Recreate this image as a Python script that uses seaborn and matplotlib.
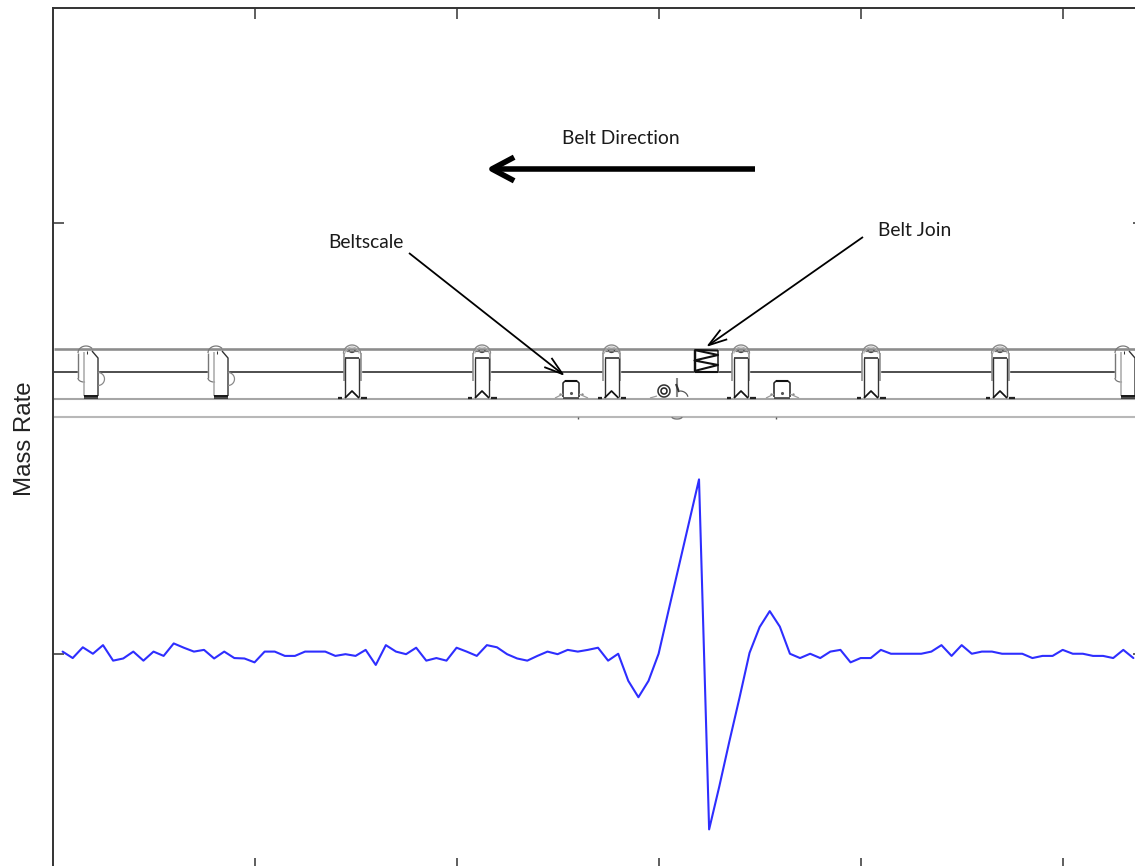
import numpy as np
import pandas as pd
import matplotlib
matplotlib.use("Agg")
import matplotlib.pyplot as plt
import seaborn as sns

position = list(range(1, 108))
mass_rate = [
    .005, -.01, .015, 0, .02, -.016, -.011, .005, -.016, .005,
    -.005, .024, .014, .005, .009, -.011, .005, -.01, -.011, -.02,
    .005, .005, -.005, -.005, .005, .005, .005, -.005, -.001, -.005,
    .009, -.026, .02, .005, -.001, .014, -.016, -.01, -.016, .014,
    .005, -.005, .02, .015, -.001, -.011, -.016, -.005, .005, -.001,
    .009, .005, .009, .014, -.016, 0, -.063, -.101, -.063, 0,
    .102, .203, .304, .405, -.408, -.309, -.204, -.103, .002, .062,
    .099, .063, 0, -.01, 0, -.01, .005, .009, -.02, -.01,
    -.01, .009, 0, 0, 0, 0, .005, .02, -.005, .02,
    0, .005, .005, 0, 0, 0, -.01, -.005, -.005, .009,
    0, 0, -.005, -.005, -.01, .009, -.01,
]
x_ticks = [20, 40, 60, 80, 100]
y_ticks = [0, 1]
y_label = "Mass Rate"

W, H = 1135, 866
sns.set_theme(style="white")
plt.rcParams["font.family"] = ["Liberation Sans", "DejaVu Sans"]

fig = plt.figure(figsize=(W / 100, H / 100), dpi=100, facecolor="white")
L, R, T, B = 52.5, 1143.5, 8.0, 869.0
ax = fig.add_axes([L / W, (H - B) / H, (R - L) / W, (B - T) / H])

df = pd.DataFrame({"Position": position, "Mass Rate": mass_rate})
sns.lineplot(data=df, x="Position", y="Mass Rate", ax=ax, color="#2e2eff",
             linewidth=1.5, errorbar=None, estimator=None, zorder=3)
ax.set_xlim(0, 108)
ax.set_ylim(-0.5, 1.5)
ax.set_xticks(x_ticks)
ax.set_yticks(y_ticks)
ax.set_xticklabels([])
ax.set_yticklabels([])
ax.set_xlabel("")
ax.set_ylabel("")
ax.tick_params(direction="in", length=8, width=1.1, color="#333333",
               top=True, right=True, bottom=True, left=True)
for s in ax.spines.values():
    s.set_color("#333333")
    s.set_linewidth(1.4)
ax.spines["left"].set_zorder(6)

fig.text(25 / W, 1 - 439 / H, y_label, rotation=90, ha="center", va="center",
         fontsize=17.3, color="#222222", family="Liberation Sans")


# Conveyor diagram overlay, placed with reference pixel positions mapped to data
def X(p):
    return (np.asarray(p, float) - L) / (R - L) * 108


def Y(p):
    return 1.5 - (np.asarray(p, float) - T) / (B - T) * 2


def ln(xs, ys, c="#222222", lw=0.8, z=4, **k):
    ax.plot(X(xs), Y(ys), color=c, lw=lw * 1.25, zorder=z, solid_capstyle="butt", **k)


x0, x1 = 54, 1140
ln([x0, x1], [349, 349], "#8c8c8c", 1.5)
ln([x0, x1], [372, 372], "#222222", 0.9)
ln([x0, x1], [399, 399], "#a6a6a6", 1.2)
ln([x0, x1], [417, 417], "#b8b8b8", 1.2)


def arc_pts(cx, cy, rx, ry, a0, a1, n=24):
    t = np.radians(np.linspace(a0, a1, n))
    return cx + rx * np.cos(t), cy - ry * np.sin(t)


def upright(cx):
    ax.fill(X([cx - 8.5, cx + 8.5, cx + 8.5, cx - 8.5]), Y([384, 384, 353, 353]),
            color="white", zorder=4.2)
    z = 4.5
    xa, ya = arc_pts(cx, 353.5, 8.5, 8.5, 0, 180)
    ln(xa, ya, "#8a8a8a", 0.8, z)
    xa, ya = arc_pts(cx, 353.5, 7, 6.5, 0, 180)
    ln(xa, ya, "#aaaaaa", 0.6, z)
    xa, ya = arc_pts(cx, 350, 3, 2.5, 180, 360)
    ln(xa, ya, "#444444", 0.7, z)
    ln([cx - 8.5, cx - 8.5], [353, 381], "#8a8a8a", 0.9, z)
    ln([cx + 8.5, cx + 8.5], [353, 381], "#8a8a8a", 0.9, z)
    ln([cx - 7, cx - 7], [358, 397], "#333333", 0.8, z)
    ln([cx + 7, cx + 7], [358, 397], "#333333", 0.8, z)
    ln([cx - 7, cx + 7], [358, 358], "#222222", 0.9, z)
    ln([cx - 6.5, cx + 6.5], [351, 351], "#777777", 0.7, z)
    ln([cx - 7, cx, cx + 7], [398, 391, 398], "#111111", 1.0, z)
    ln([cx - 14, cx - 10], [398, 398], "#222222", 1.3, z)
    ln([cx + 9, cx + 15], [398, 398], "#222222", 1.3, z)


def tilted(xl):
    z = 4.5
    ax.fill(X([xl, xl + 20, xl + 20, xl]), Y([383, 383, 352, 352]), color="white", zorder=4.2)
    xa, ya = arc_pts(xl + 8, 353, 8, 7, 40, 180)
    ln(xa, ya, "#777777", 0.7, z)
    ln([xl, xl], [353, 378], "#777777", 0.8, z)
    xa, ya = arc_pts(xl + 6, 378, 6, 4, 180, 280)
    ln(xa, ya, "#777777", 0.7, z)
    ln([xl + 14, xl + 20, xl + 20], [351, 358, 396], "#333333", 0.8, z)
    ln([xl + 6, xl + 6], [352, 396], "#aaaaaa", 0.9, z)
    xa, ya = arc_pts(xl + 20, 379, 6.5, 6.5, -90, 90)
    ln(xa, ya, "#888888", 0.7, z)
    ln([xl + 6, xl + 20], [398, 398], "#333333", 1.0, z)
    ln([xl + 6, xl + 20], [395.5, 395.5], "#111111", 1.1, z)
    ln([xl + 9, xl + 9], [351, 354], "#333333", 0.6, z)


def scale_frame(cx):
    z = 4.5
    ln([cx - 8, cx - 8, cx - 6, cx + 6, cx + 8, cx + 8],
       [397, 383, 381, 381, 383, 397], "#222222", 0.9, z)
    ln([cx - 6, cx + 6], [381, 381], "#111111", 1.2, z)
    ln([cx - 8, cx + 8], [397.5, 397.5], "#333333", 0.9, z)
    ax.scatter(X([cx]), Y([393]), s=5, color="#555555", zorder=z, linewidths=0)
    ax.scatter(X([cx - 11, cx + 11]), Y([394, 394]), s=3, color="#888888", zorder=z, linewidths=0)
    ln([cx - 16, cx - 8], [398, 394], "#999999", 0.7, z)
    ln([cx + 8, cx + 17], [394, 398], "#999999", 0.7, z)


for cx in [352, 482, 611.5, 741, 871, 1000]:
    upright(cx)
for xl in [78, 208, 1115]:
    tilted(xl)
for cx in [571, 782]:
    scale_frame(cx)

# drive unit
for r, col, lw in [(6, "#333333", 0.9), (3, "#222222", 0.9)]:
    xa, ya = arc_pts(664, 391, r, r, 0, 360, 40)
    ln(xa, ya, col, lw, 4.5)
ln([677, 677], [378, 397], "#888888", 1.2, 4.5)
ln([676, 679], [384, 392], "#333333", 1.2, 4.5)
xa, ya = arc_pts(680, 398, 8, 7, 10, 90)
ln(xa, ya, "#555555", 0.7, 4.5)
ln([650, 657], [398, 396], "#999999", 0.7, 4.5)
for mx in [578, 776]:
    ln([mx, mx], [417, 418.5], "#555555", 0.8, 4.5)
xa, ya = arc_pts(677, 417, 5, 2, 180, 360)
ln(xa, ya, "#777777", 0.8, 4.5)

# belt join
ax.fill(X([694, 718, 718, 694]), Y([371, 371, 350, 350]), color="white", zorder=4.4)
ln([694.5, 694.5], [350, 371.5], "#111111", 1.4, 4.6)
ln([718, 718], [350, 371.5], "#222222", 0.9, 4.6)
ln([694.5, 718], [350, 350.5], "#111111", 1.2, 4.6)
ln([694.5, 718], [371.5, 371.5], "#111111", 1.2, 4.6)
ln([694.5, 718, 694.5, 718, 694.5], [350, 355, 360.5, 365, 371], "#111111", 1.2, 4.6)


def arrow(x_from, y_from, x_to, y_to, lw, hl, hw):
    ax.annotate("", xy=(X(x_to), Y(y_to)), xytext=(X(x_from), Y(y_from)), zorder=5,
                arrowprops=dict(arrowstyle=f"->,head_length={hl},head_width={hw}",
                                color="black", lw=lw, shrinkA=0, shrinkB=0,
                                mutation_scale=10, capstyle="butt"))


arrow(755, 169, 486, 169, 4.0, 1.6, 0.85)
arrow(409, 253, 565, 376, 1.3, 1.35, 0.42)
arrow(863, 237, 706, 347, 1.3, 1.35, 0.42)

lab = dict(family="Lato", fontsize=13.9, color="#1a1a1a", va="center", zorder=6)
ax.text(X(621), Y(138.5), "Belt Direction", ha="center", **lab)
ax.text(X(328), Y(242), "Beltscale", ha="left", **lab)
ax.text(X(878), Y(230), "Belt Join", ha="left", **lab)

fig.savefig("out.png", dpi=100, facecolor="white")
